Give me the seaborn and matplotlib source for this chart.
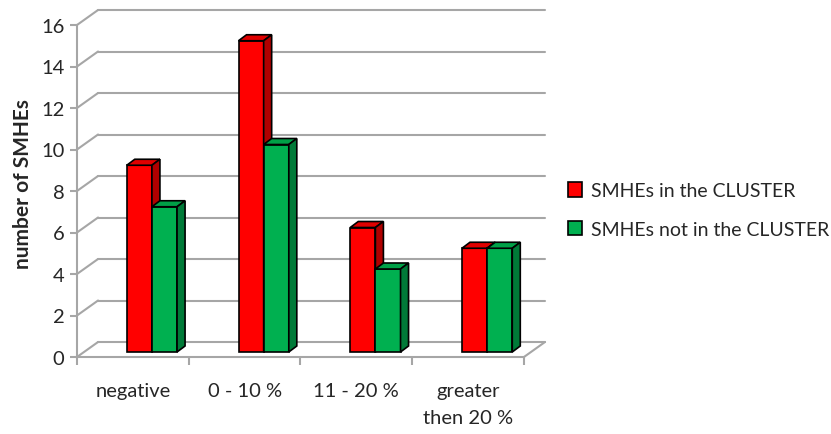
import matplotlib
matplotlib.use("Agg")
import matplotlib.pyplot as plt
import seaborn as sns
import pandas as pd
from matplotlib.patches import Polygon

# values
categories = ["negative", "0 - 10 %", "11 - 20 %", "greater\nthen 20 %"]
in_cluster = [9, 15, 6, 5]
not_in_cluster = [7, 10, 4, 5]
series_names = ["SMHEs in the CLUSTER", "SMHEs not in the CLUSTER"]
y_ticks = [0, 2, 4, 6, 8, 10, 12, 14, 16]

front_colors = ["#ff0000", "#00b050"]
top_colors = ["#e00000", "#00a047"]
side_colors = ["#b00000", "#007a38"]
grid_color = "#a6a6a6"

df = pd.DataFrame({
    "category": categories * 2,
    "series": [series_names[0]] * len(categories) + [series_names[1]] * len(categories),
    "count": in_cluster + not_in_cluster,
})

sns.set_style("white")
plt.rcParams['font.family'] = ['Lato', 'DejaVu Sans']

fig = plt.figure(figsize=(8.31, 4.35), dpi=100)
ax = fig.add_axes([77 / 831, (435 - 358) / 435, (545 - 77) / 831, (358 - 11) / 435])

# pseudo-3d offsets (in data units)
wall_dx = 21 / 111.5
wall_dy = 15 / 20.75
bar_dx = 8 / 111.5
bar_dy = 6 / 20.75
shift_x = 19 / 111.5
shift_y = 5 / 20.75

sns.barplot(data=df, x="category", y="count", hue="series", order=categories,
            hue_order=series_names, palette=front_colors, width=0.45,
            edgecolor="black", linewidth=1.2, saturation=1, ax=ax)

# add top and side faces
for i, cont in enumerate(ax.containers):
    for bar in cont:
        x0 = bar.get_x() + shift_x
        y0 = shift_y
        w = bar.get_width()
        h = bar.get_height()
        bar.set_x(x0)
        bar.set_y(y0)
        bar.set_zorder(3 + i)
        top = Polygon([(x0, y0 + h), (x0 + w, y0 + h), (x0 + w + bar_dx, y0 + h + bar_dy),
                       (x0 + bar_dx, y0 + h + bar_dy)], closed=True,
                      facecolor=top_colors[i], edgecolor="black", lw=1.2, zorder=3 + i)
        side = Polygon([(x0 + w, y0), (x0 + w + bar_dx, y0 + bar_dy),
                        (x0 + w + bar_dx, y0 + h + bar_dy), (x0 + w, y0 + h)], closed=True,
                       facecolor=side_colors[i], edgecolor="black", lw=1.2, zorder=3 + i)
        ax.add_patch(top)
        ax.add_patch(side)

# back wall gridlines
for v in y_ticks:
    ax.plot([-0.5, -0.5 + wall_dx], [v, v + wall_dy], color=grid_color, lw=1.5, zorder=1, clip_on=False)
    ax.plot([-0.5 + wall_dx, 3.5 + wall_dx], [v + wall_dy, v + wall_dy], color=grid_color, lw=1.5, zorder=1, clip_on=False)
ax.plot([3.5, 3.5 + wall_dx], [0, wall_dy], color=grid_color, lw=1.5, zorder=1, clip_on=False)

ax.set_xlim(-0.5, 3.5 + wall_dx)
ax.set_ylim(0, 16 + wall_dy)
for s in ["top", "right"]:
    ax.spines[s].set_visible(False)
ax.spines["left"].set_bounds(0, 16)
ax.spines["bottom"].set_bounds(-0.5, 3.5)
for s in ["left", "bottom"]:
    ax.spines[s].set_color(grid_color)
    ax.spines[s].set_linewidth(1.5)

ax.set_yticks(y_ticks)
ax.tick_params(axis="y", left=True, length=5, width=1.5, color=grid_color, labelsize=14.5, pad=4)
ax.set_xticks(range(len(categories)))
ax.set_xticklabels(categories)
ax.set_xticks([-0.5, 0.5, 1.5, 2.5, 3.5], minor=True)
ax.tick_params(axis="x", which="major", length=0, labelsize=14.5, pad=18)
ax.tick_params(axis="x", which="minor", bottom=True, length=6, width=1.5, color=grid_color)
for lbl in ax.get_xticklabels():
    lbl.set_linespacing(1.7)
ax.set_xlabel("")
ax.set_ylabel("number of SMHEs", fontsize=15, fontweight="bold", labelpad=6)

handles, labels = ax.get_legend_handles_labels()
ax.legend(handles, labels, loc="center left", bbox_to_anchor=(550 / 831, 1 - 211 / 435),
          bbox_transform=fig.transFigure, frameon=False, fontsize=14,
          handlelength=0.75, handleheight=0.75, labelspacing=1.1, handletextpad=0.45)

fig.savefig("out.png", dpi=100)
